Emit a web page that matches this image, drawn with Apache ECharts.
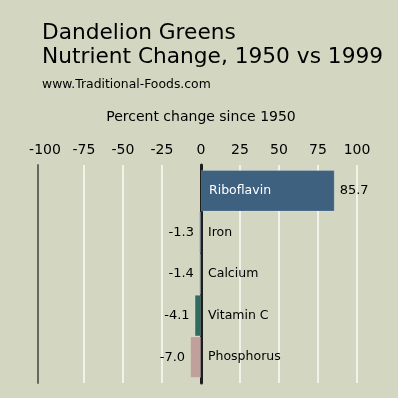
<!DOCTYPE html>
<html>
<head>
<meta charset="utf-8">
<script src="https://cdn.jsdelivr.net/npm/echarts@6/dist/echarts.min.js"></script>
<style>
  html, body { margin: 0; padding: 0; background: #d3d7c1; }
  #chart { width: 398px; height: 398px; }
</style>
</head>
<body>
<div id="chart"></div>
<script>
const nutrients = ['Riboflavin', 'Iron', 'Calcium', 'Vitamin C', 'Phosphorus']
const changes = [85.7, -1.3, -1.4, -4.1, -7.0]
const barColors = ['#3e6180', '#8095ae', '#9eb9b2', '#2f6b5e', '#bfa09b']
const xMin = -100
const xMax = 100
const xStep = 25

const font = 'DejaVu Sans, Verdana, sans-serif'

const chart = echarts.init(document.getElementById('chart'))

const barData = changes.map((v, i) => ({
  value: v,
  itemStyle: { color: barColors[i] },
  label: { position: v < 0 ? 'left' : 'right' }
}))

// names sit just right of zero: inside the bar for positives, outside for negatives
const nameData = changes.map((v) => ({
  value: v,
  label: v < 0
    ? { position: 'right', color: '#000', distance: 7 }
    : { position: 'insideLeft', color: '#fff', distance: 8 }
}))

// white grid lines, none drawn at -100 (the dark frame line sits left of it)
const gridColors = []
for (let v = xMin; v <= xMax; v += xStep) {
  gridColors.push(v === xMin ? 'rgba(0,0,0,0)' : '#f2f2ea')
}

chart.setOption({
  backgroundColor: '#d3d7c1',
  textStyle: { fontFamily: font },
  title: [
    {
      text: 'Dandelion Greens\nNutrient Change, 1950 vs 1999',
      left: 37,
      top: 16,
      textStyle: { fontFamily: font, fontSize: 21.7, lineHeight: 24, fontWeight: 'normal', color: '#000' }
    },
    {
      text: 'www.Traditional-Foods.com',
      left: 37,
      top: 74,
      textStyle: { fontFamily: font, fontSize: 12.4, fontWeight: 'normal', color: '#000' }
    }
  ],
  grid: [
    // bars
    { left: 45, right: 41, top: 170, bottom: 20 },
    // grid lines and frame, slightly taller than the bars
    { left: 45, right: 41, top: 165, bottom: 15 }
  ],
  xAxis: [
    {
      gridIndex: 0,
      type: 'value',
      position: 'top',
      min: xMin,
      max: xMax,
      interval: xStep,
      name: 'Percent change since 1950',
      nameLocation: 'middle',
      nameGap: 46,
      nameTextStyle: { fontFamily: font, fontSize: 14, color: '#000' },
      axisLine: { show: false },
      axisTick: { show: false },
      splitLine: { show: false },
      axisLabel: { fontFamily: font, fontSize: 14, color: '#000', margin: 13 }
    },
    {
      gridIndex: 1,
      type: 'value',
      min: xMin,
      max: xMax,
      interval: xStep,
      axisLine: { show: false },
      axisTick: { show: false },
      axisLabel: { show: false },
      splitLine: { lineStyle: { color: gridColors, width: 2 } }
    }
  ],
  yAxis: [
    {
      gridIndex: 0,
      type: 'category',
      inverse: true,
      data: nutrients,
      axisLine: { show: false },
      axisTick: { show: false },
      axisLabel: { show: false }
    },
    {
      gridIndex: 1,
      type: 'category',
      data: nutrients,
      axisLine: { onZero: true, lineStyle: { color: '#1e1e1e', width: 3 } },
      axisTick: { show: false },
      axisLabel: { show: false },
      z: 0
    },
    {
      gridIndex: 1,
      type: 'category',
      position: 'left',
      offset: 7,
      data: nutrients,
      axisLine: { onZero: false, lineStyle: { color: '#67675d', width: 2 } },
      axisTick: { show: false },
      axisLabel: { show: false },
      z: 0
    }
  ],
  series: [
    {
      type: 'bar',
      xAxisIndex: 0,
      yAxisIndex: 0,
      data: barData,
      barCategoryGap: 0,
      z: 10,
      itemStyle: { borderColor: 'rgba(255,255,255,0.18)', borderWidth: 1 },
      label: {
        show: true,
        distance: 5,
        fontFamily: font,
        fontSize: 13,
        color: '#000',
        formatter: (p) => p.value.toFixed(1)
      }
    },
    {
      // transparent twin of the bars, only carries the nutrient names
      type: 'bar',
      xAxisIndex: 0,
      yAxisIndex: 0,
      data: nameData,
      barCategoryGap: 0,
      barGap: '-100%',
      silent: true,
      z: 11,
      itemStyle: { color: 'rgba(0,0,0,0)' },
      label: {
        show: true,
        fontFamily: font,
        fontSize: 12.5,
        formatter: (p) => p.name
      }
    }
  ]
})
</script>
</body>
</html>
